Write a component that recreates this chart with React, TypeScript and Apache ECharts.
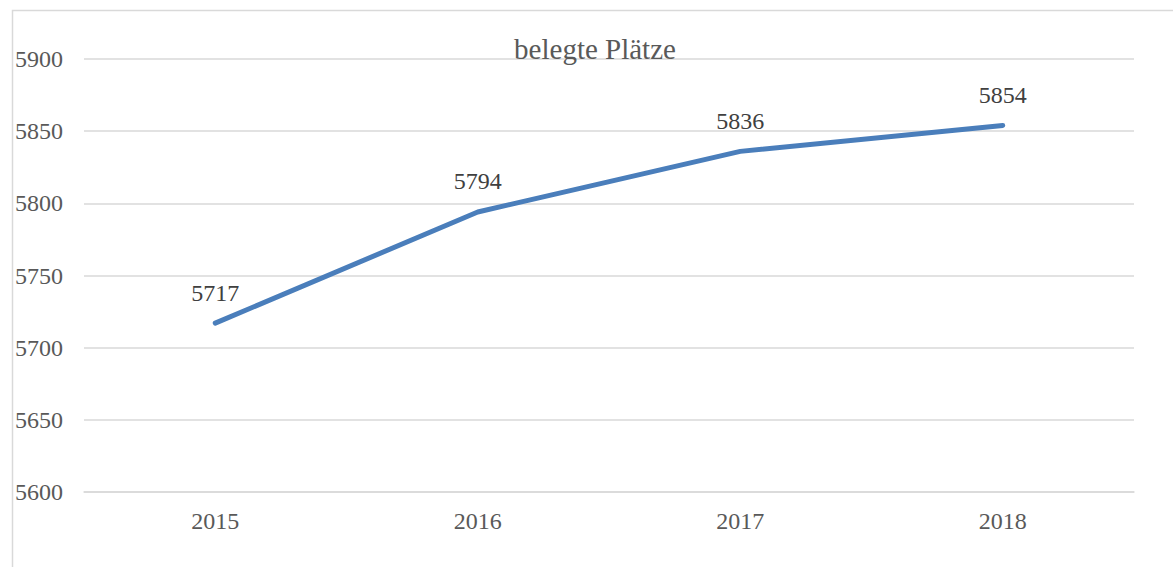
import React, { useEffect, useRef } from "react";
import * as echarts from "echarts";

const categories = ["2015", "2016", "2017", "2018"];
const values = [5717, 5794, 5836, 5854];
const titleText = "belegte Plätze";
const yMin = 5600;
const yMax = 5900;
const yInterval = 50;

export default function App() {
  const ref = useRef<HTMLDivElement>(null);
  useEffect(() => {
    if (!ref.current) return;
    const chart = echarts.init(ref.current, null, { renderer: "svg" });
    const font = "'Liberation Serif', 'Times New Roman', serif";
    chart.setOption({
      animation: false,
      backgroundColor: "#ffffff",
      textStyle: { fontFamily: font },
      title: {
        text: titleText,
        left: 590,
        top: 29,
        textAlign: "center",
        textStyle: { fontFamily: font, fontSize: 29, fontWeight: "normal", color: "#595959" },
      },
      graphic: [
        {
          type: "rect",
          left: 10,
          top: 8,
          shape: { x: 0, y: 0, width: 1250, height: 650 },
          style: { fill: "none", stroke: "#d9d9d9", lineWidth: 1.5 },
          silent: true,
          z: -1,
        },
      ],
      grid: { left: 84, right: 39, top: 59, bottom: 75, containLabel: false },
      xAxis: {
        type: "category",
        data: categories,
        boundaryGap: true,
        axisLine: { show: true, lineStyle: { color: "#d9d9d9", width: 1.5 } },
        axisTick: { show: false },
        axisLabel: { fontFamily: font, fontSize: 24, color: "#595959", margin: 17 },
      },
      yAxis: {
        type: "value",
        min: yMin,
        max: yMax,
        interval: yInterval,
        axisLine: { show: false },
        axisTick: { show: false },
        splitLine: { lineStyle: { color: "#d9d9d9", width: 1.5 } },
        axisLabel: {
          fontFamily: font,
          fontSize: 24,
          color: "#595959",
          margin: 21,
          formatter: (v: number) => String(v),
        },
      },
      series: [
        {
          type: "line",
          data: values,
          symbol: "circle",
          symbolSize: 1,
          showSymbol: true,
          itemStyle: { color: "rgba(0,0,0,0)", borderWidth: 0 },
          lineStyle: { color: "#4a7ebb", width: 5, cap: "round" },
          emphasis: { disabled: true },
          label: {
            show: true,
            position: "top",
            distance: 18,
            fontFamily: font,
            fontSize: 24,
            color: "#404040",
          },
        },
      ],
    });
    return () => chart.dispose();
  }, []);
  return (
    <div
      ref={ref}
      style={{ position: "fixed", left: 0, top: 0, width: 1173, height: 567 }}
    />
  );
}
